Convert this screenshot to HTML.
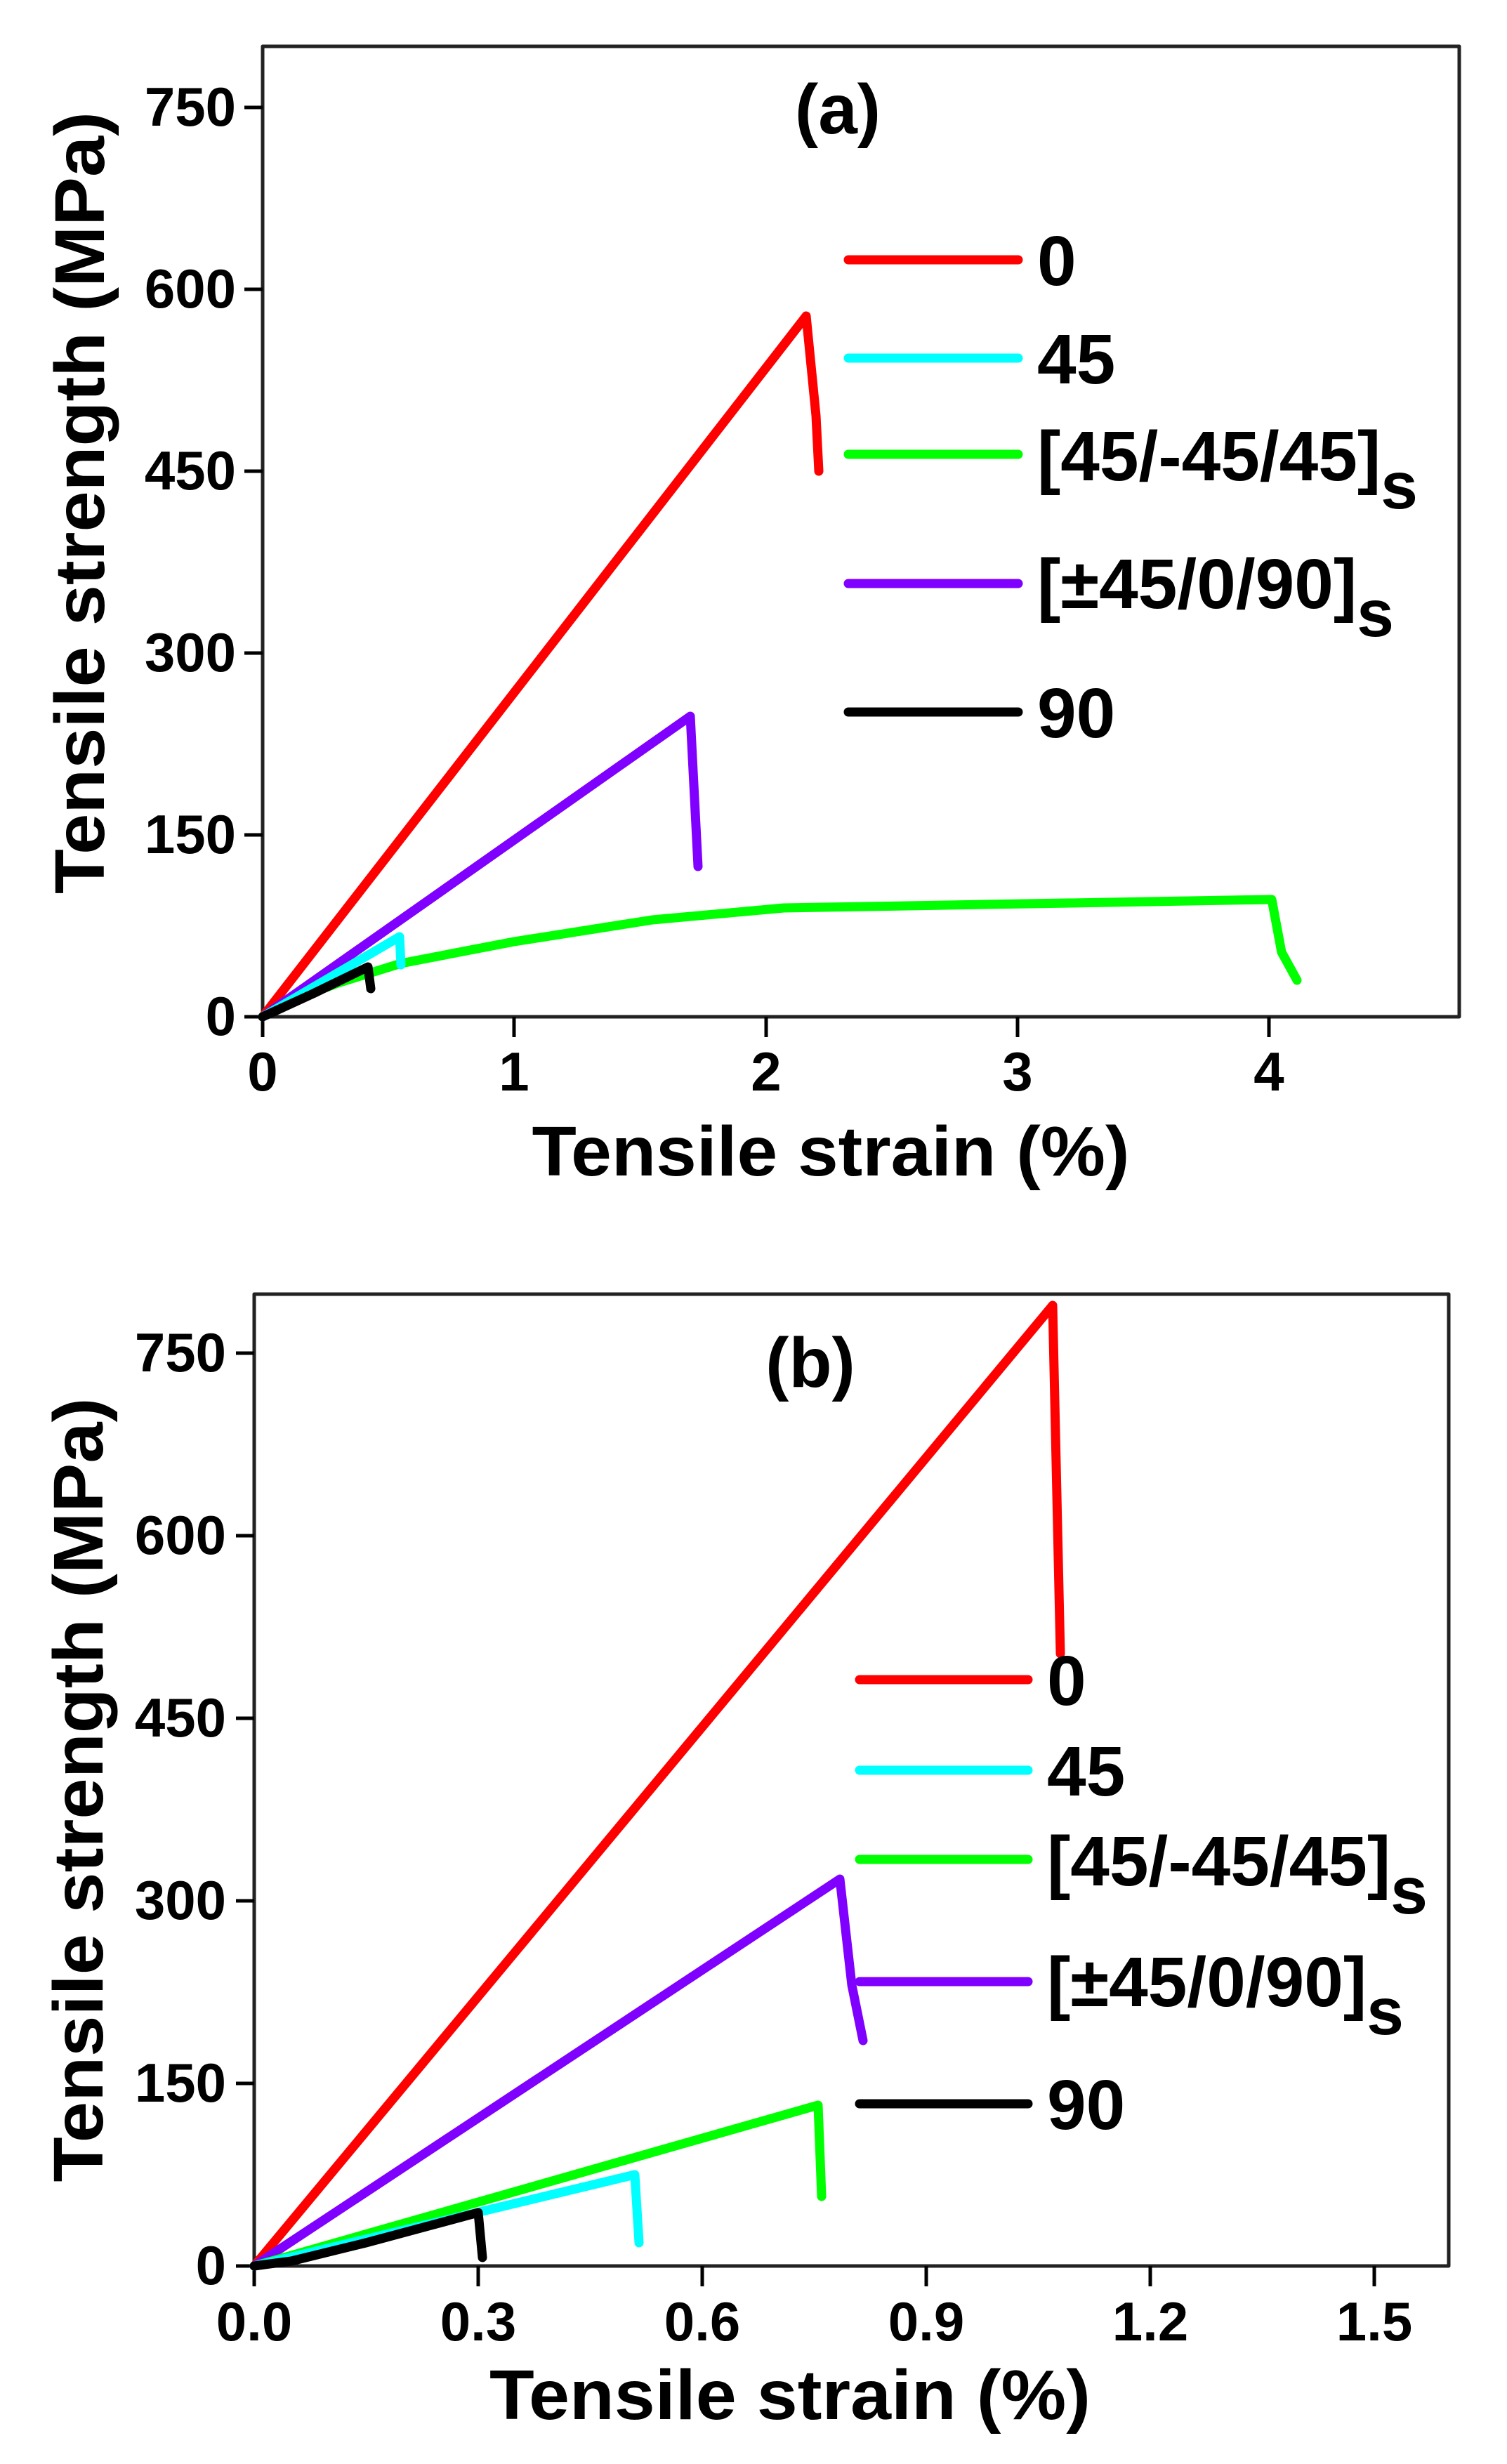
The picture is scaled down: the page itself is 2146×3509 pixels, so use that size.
<!DOCTYPE html>
<html><head><meta charset="utf-8"><style>
html,body{margin:0;padding:0;background:#fff}
svg{display:block}
text{font-family:"Liberation Sans",Arial,sans-serif;font-weight:bold;fill:#000}
</style></head><body>
<svg width="2146" height="3509" viewBox="0 0 2146 3509" xmlns="http://www.w3.org/2000/svg">
<rect width="2146" height="3509" fill="#fff"/>
<g fill="none" stroke-linejoin="round" stroke-linecap="round">
<!-- Panel a frame -->
<rect x="374" y="66" width="1704" height="1382" stroke="#222" stroke-width="5" stroke-linecap="butt"/>
<g stroke="#000" stroke-width="5" stroke-linecap="butt">
<path d="M348 1448H374M348 1189H374M348 930H374M348 671H374M348 412H374M348 153H374"/>
<path d="M374 1448V1477M732 1448V1477M1091 1448V1477M1449 1448V1477M1807 1448V1477"/>
</g>
<g stroke-width="13">
<polyline stroke="#00ff00" points="374,1448 410,1427 481,1400 571,1372 732,1341 929,1310 1116,1293 1811,1281 1825,1356 1847,1396"/>
<polyline stroke="#ff0000" points="374,1448 1148,450 1162,592 1166,671"/>
<polyline stroke="#8000ff" points="374,1448 983,1020 994,1234"/>
<polyline stroke="#00ffff" points="374,1448 569,1334 571,1374"/>
<polyline stroke="#000000" points="374,1448 446,1415 524,1377 528,1408"/>
</g>
<g stroke-width="13">
<line x1="1208" y1="370" x2="1450" y2="370" stroke="#ff0000"/>
<line x1="1208" y1="510" x2="1450" y2="510" stroke="#00ffff"/>
<line x1="1208" y1="647" x2="1450" y2="647" stroke="#00ff00"/>
<line x1="1208" y1="831" x2="1450" y2="831" stroke="#8000ff"/>
<line x1="1208" y1="1014" x2="1450" y2="1014" stroke="#000000"/>
</g>
<!-- Panel b frame -->
<rect x="362" y="1843" width="1701" height="1384" stroke="#222" stroke-width="5" stroke-linecap="butt"/>
<g stroke="#000" stroke-width="5" stroke-linecap="butt">
<path d="M336 3227H362M336 2967H362M336 2707H362M336 2447H362M336 2187H362M336 1927H362"/>
<path d="M362 3227V3256M681 3227V3256M1000 3227V3256M1319 3227V3256M1638 3227V3256M1957 3227V3256"/>
</g>
<g stroke-width="13">
<polyline stroke="#ff0000" points="362,3227 1499,1859 1510,2355"/>
<polyline stroke="#8000ff" points="362,3227 1196,2676 1213,2827 1229,2906"/>
<polyline stroke="#00ff00" points="362,3227 1165,2998 1170,3128"/>
<polyline stroke="#00ffff" points="362,3227 904,3097 910,3194"/>
<polyline stroke="#000000" points="362,3227 415,3220 521,3194 681,3151 687,3215"/>
</g>
<g stroke-width="13">
<line x1="1224" y1="2392" x2="1464" y2="2392" stroke="#ff0000"/>
<line x1="1224" y1="2521" x2="1464" y2="2521" stroke="#00ffff"/>
<line x1="1224" y1="2648" x2="1464" y2="2648" stroke="#00ff00"/>
<line x1="1224" y1="2822" x2="1464" y2="2822" stroke="#8000ff"/>
<line x1="1224" y1="2996" x2="1464" y2="2996" stroke="#000000"/>
</g>
</g>
<!-- Panel a text -->
<g font-size="78" text-anchor="end">
<text x="336" y="1474">0</text><text x="336" y="1215">150</text><text x="336" y="956">300</text>
<text x="336" y="697">450</text><text x="336" y="438">600</text><text x="336" y="179">750</text>
</g>
<g font-size="78" text-anchor="middle">
<text x="374" y="1553">0</text><text x="732" y="1553">1</text><text x="1091" y="1553">2</text>
<text x="1449" y="1553">3</text><text x="1807" y="1553">4</text>
</g>
<text x="1183" y="1674" font-size="100" text-anchor="middle" textLength="851" lengthAdjust="spacingAndGlyphs">Tensile strain (%)</text>
<text transform="translate(148,716) rotate(-90)" font-size="100" text-anchor="middle" textLength="1114" lengthAdjust="spacingAndGlyphs">Tensile strength (MPa)</text>
<text x="1193" y="190" font-size="100" text-anchor="middle">(a)</text>
<g font-size="100">
<text x="1477" y="406">0</text>
<text x="1477" y="546">45</text>
<text x="1477" y="684">[45/-45/45]<tspan font-size="95" dy="40">s</tspan></text>
<text x="1477" y="866">[±45/0/90]<tspan font-size="95" dy="40">s</tspan></text>
<text x="1477" y="1050">90</text>
</g>
<!-- Panel b text -->
<g font-size="78" text-anchor="end">
<text x="322" y="3253">0</text><text x="322" y="2993">150</text><text x="322" y="2733">300</text>
<text x="322" y="2473">450</text><text x="322" y="2213">600</text><text x="322" y="1953">750</text>
</g>
<g font-size="78" text-anchor="middle">
<text x="362" y="3333">0.0</text><text x="681" y="3333">0.3</text><text x="1000" y="3333">0.6</text>
<text x="1319" y="3333">0.9</text><text x="1638" y="3333">1.2</text><text x="1957" y="3333">1.5</text>
</g>
<text x="1125" y="3445" font-size="100" text-anchor="middle" textLength="856" lengthAdjust="spacingAndGlyphs">Tensile strain (%)</text>
<text transform="translate(146,2549) rotate(-90)" font-size="100" text-anchor="middle" textLength="1117" lengthAdjust="spacingAndGlyphs">Tensile strength (MPa)</text>
<text x="1154" y="1975" font-size="100" text-anchor="middle">(b)</text>
<g font-size="100">
<text x="1491" y="2428">0</text>
<text x="1491" y="2557">45</text>
<text x="1491" y="2685">[45/-45/45]<tspan font-size="95" dy="40">s</tspan></text>
<text x="1491" y="2857">[±45/0/90]<tspan font-size="95" dy="40">s</tspan></text>
<text x="1491" y="3032">90</text>
</g>
</svg>
</body></html>
